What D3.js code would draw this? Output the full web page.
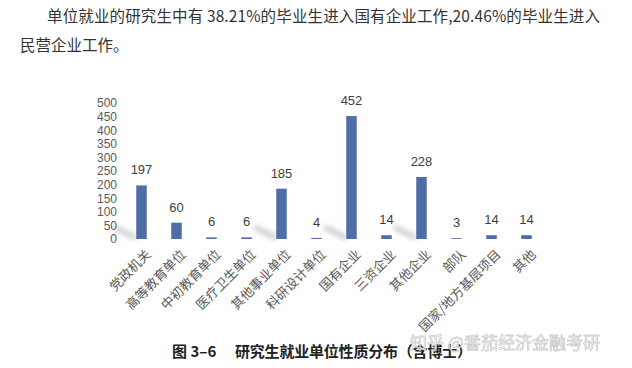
<!DOCTYPE html>
<html>
<head>
<meta charset="utf-8">
<script src="https://cdn.jsdelivr.net/npm/d3@7"></script>
<style>
  body { margin: 0; background: #fff; }
  svg { display: block; }
</style>
</head>
<body>
<div id="chart"></div>
<script>
const categories = ["党政机关", "高等教育单位", "中初教育单位", "医疗卫生单位", "其他事业单位", "科研设计单位",
  "国有企业", "三资企业", "其他企业", "部队", "国家/地方基层项目", "其他"];
const values = [197, 60, 6, 6, 185, 4, 452, 14, 228, 3, 14, 14];
const yTicks = [0, 50, 100, 150, 200, 250, 300, 350, 400, 450, 500];
// decorative shadow streaks behind some bars (category index)
const shadowAt = [0, 4, 6, 8];

const width = 632, height = 368;
const svg = d3.select("#chart").append("svg")
  .attr("width", width).attr("height", height);

const defs = svg.append("defs");
defs.append("filter").attr("id", "blur")
  .attr("x", "-50%").attr("y", "-50%").attr("width", "200%").attr("height", "200%")
  .append("feGaussianBlur").attr("stdDeviation", 2.5);

// paragraph text above the figure
const para = svg.append("g")
  .style("font-family", "'Noto Sans CJK SC', sans-serif")
  .style("font-size", "15.5px")
  .attr("fill", "#333");
para.append("text").attr("x", 47).attr("y", 22)
  .attr("textLength", 553).attr("lengthAdjust", "spacing")
  .text("单位就业的研究生中有 38.21%的毕业生进入国有企业工作,20.46%的毕业生进入");
para.append("text").attr("x", 20).attr("y", 51).text("民营企业工作。");

const x = d3.scaleBand()
  .domain(categories)
  .range([124, 544])
  .paddingInner(0.7)
  .paddingOuter(0.35);

const y = d3.scaleLinear()
  .domain([0, 500])
  .range([239, 103]);

// shadows
svg.append("g")
  .selectAll("line")
  .data(shadowAt)
  .join("line")
  .attr("x1", i => x(categories[i]) - 20)
  .attr("y1", y(40))
  .attr("x2", i => x(categories[i]) - 2)
  .attr("y2", y(0) - 2)
  .attr("stroke", "#9a9a9a")
  .attr("stroke-width", 6)
  .attr("stroke-linecap", "round")
  .attr("opacity", 0.45)
  .attr("filter", "url(#blur)");

// y axis labels
const yAxis = svg.append("g")
  .attr("transform", "translate(117,0)")
  .call(d3.axisLeft(y).tickValues(yTicks).tickSize(0).tickPadding(0));
yAxis.select(".domain").remove();
yAxis.selectAll("text")
  .style("font-family", "'Liberation Sans', Arial, sans-serif")
  .style("font-size", "12px")
  .attr("fill", "#595959");

// bars
svg.append("g")
  .selectAll("rect")
  .data(values)
  .join("rect")
  .attr("x", (d, i) => x(categories[i]))
  .attr("width", x.bandwidth())
  .attr("y", d => y(d))
  .attr("height", d => y(0) - y(d))
  .attr("fill", "#4f6ea8");

// value labels
svg.append("g")
  .selectAll("text")
  .data(values)
  .join("text")
  .attr("x", (d, i) => x(categories[i]) + x.bandwidth() / 2)
  .attr("y", d => y(d) - 11)
  .attr("text-anchor", "middle")
  .style("font-family", "'Liberation Sans', Arial, sans-serif")
  .style("font-size", "13px")
  .attr("fill", "#404040")
  .text(d => d);

// category labels, rotated
svg.append("g")
  .selectAll("text")
  .data(categories)
  .join("text")
  .attr("transform", d => `translate(${x(d) + x.bandwidth() / 2 + 7},${252}) rotate(-45)`)
  .attr("text-anchor", "end")
  .attr("dy", "0.35em")
  .style("font-family", "'Noto Sans CJK SC', sans-serif")
  .style("font-size", "13px")
  .attr("fill", "#595959")
  .text(d => d);

// caption
const caption = svg.append("g")
  .style("font-family", "'Noto Sans CJK SC', sans-serif")
  .style("font-size", "15px")
  .style("font-weight", "bold")
  .attr("fill", "#222");
caption.append("text").attr("x", 172).attr("y", 357).text("图 3–6");
caption.append("text").attr("x", 235).attr("y", 357)
  .attr("textLength", 237).attr("lengthAdjust", "spacing")
  .text("研究生就业单位性质分布（含博士）");

// watermark
svg.append("text")
  .attr("x", 410).attr("y", 349)
  .style("font-family", "'Noto Sans CJK SC', sans-serif")
  .style("font-size", "17px")
  .attr("fill", "#fff")
  .attr("stroke", "#c8c8c8")
  .attr("stroke-width", 0.8)
  .attr("opacity", 0.9)
  .text("知乎 @番茄经济金融考研");
</script>
</body>
</html>
